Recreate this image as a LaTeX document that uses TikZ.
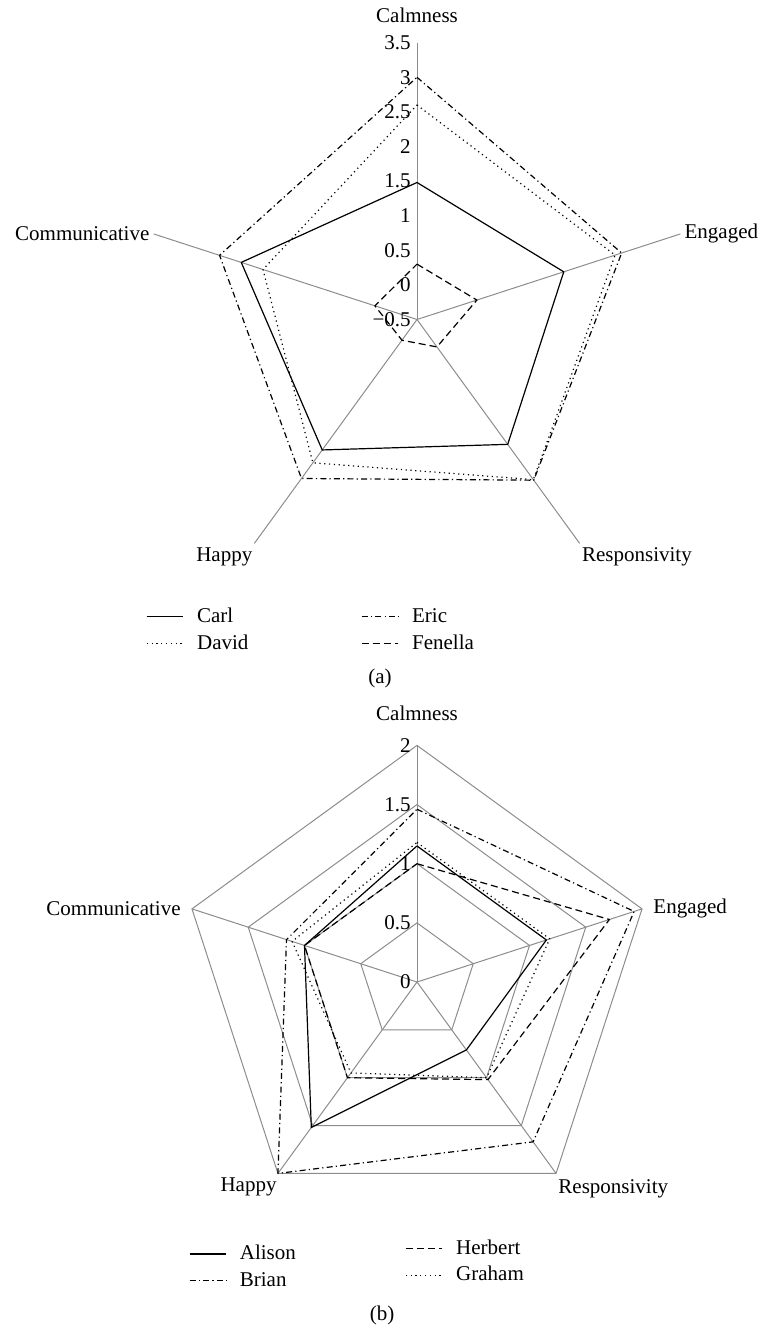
\documentclass[tikz,border=0pt]{standalone}
\usepackage{fontspec}
\setmainfont{Liberation Serif}
\usepackage{tikz}
\usetikzlibrary{positioning}

\begin{document}
\begin{tikzpicture}[
    x=0.5pt, y=0.5pt,
    every node/.style={font=\fontsize{10.5}{12.6}\selectfont},
    gridline/.style={draw=black!45, line width=0.5pt},
    lsolid/.style={draw=black, line width=0.6pt, line join=round},
    ldot/.style={lsolid, dash pattern=on 0.6pt off 1.8pt},
    ldashdot/.style={lsolid, dash pattern=on 3pt off 1.6pt on 0.6pt off 1.6pt},
    ldash/.style={lsolid, dash pattern=on 3.5pt off 2pt},
    ticklabel/.style={anchor=east, inner sep=3pt},
    axislabel/.style={inner sep=2pt},
    legendtext/.style={inner sep=0pt, anchor=west, text height=1.5ex, text depth=0.25ex},
    caption/.style={inner sep=0pt}
]
\useasboundingbox (0,0) rectangle (759,-1329);

\coordinate (ca) at (417,-319.5);
\coordinate (cb) at (417,-982);

% (a)
\begin{scope}[shift={(ca)}, x=34.6pt, y=34.6pt]
\foreach \a in {90,18,-54,-126,162}
    \draw[gridline] (0,0) -- (\a:4);
\foreach \t [count=\i from 0] in {−0.5,0,0.5,1,1.5,2,2.5,3,3.5}
    \node[ticklabel] (ta\i) at (0,{\i/2}) {\t};

\draw[lsolid] (90:1.98) -- (18:2.23) -- (-54:2.23) -- (-126:2.33) -- (162:2.67) -- cycle;
\draw[ldot] (90:3.1) -- (18:3.01) -- (-54:2.86) -- (-126:2.56) -- (162:2.34) -- cycle;
\draw[ldashdot] (90:3.5) -- (18:3.11) -- (-54:2.87) -- (-126:2.84) -- (162:3.0) -- cycle;
\draw[ldash] (90:0.8) -- (18:0.91) -- (-54:0.49) -- (-126:0.37) -- (162:0.64) -- cycle;

\node[axislabel, anchor=south, yshift=8pt] (calma) at (90:4) {Calmness};
\node[axislabel, anchor=west] (enga) at (18:4) {Engaged};
\node[axislabel, anchor=north west, xshift=-1pt] (respa) at (-54:4) {Responsivity};
\node[axislabel, anchor=north east, xshift=1.2pt] (happa) at (-126:4) {Happy};
\node[axislabel, anchor=east] (comma) at (162:4) {Communicative};
\end{scope}

\node[legendtext] (lcarl) at (196.7,-616.7) {Carl};
\node[legendtext, below=5pt of lcarl.south west, anchor=north west] (ldavid) {David};
\node[legendtext] (leric) at (411.7,-616.7) {Eric};
\node[legendtext, below=5pt of leric.south west, anchor=north west] (lfenella) {Fenella};
\draw[lsolid] ([xshift=-25pt]lcarl.west) -- ([xshift=-6.7pt]lcarl.west);
\draw[ldot] ([xshift=-25pt]ldavid.west) -- ([xshift=-6.7pt]ldavid.west);
\draw[ldashdot] ([xshift=-25pt]leric.west) -- ([xshift=-6.7pt]leric.west);
\draw[ldash] ([xshift=-25pt]lfenella.west) -- ([xshift=-6.7pt]lfenella.west);

\node[caption] (capa) at (380,-678) {(a)};

% (b)
\begin{scope}[shift={(cb)}, x=59.15pt, y=59.15pt]
\foreach \r in {0.5,1,1.5,2}
    \draw[gridline] (90:\r) -- (18:\r) -- (-54:\r) -- (-126:\r) -- (162:\r) -- cycle;
\foreach \a in {90,18,-54,-126,162}
    \draw[gridline] (0,0) -- (\a:2);
\foreach \t [count=\i] in {0,0.5,1,1.5,2}
    \node[ticklabel] (tb\i) at (0,\t) {\t};

\draw[lsolid] (90:1.15) -- (18:1.15) -- (-54:0.71) -- (-126:1.52) -- (162:1.0) -- cycle;
\draw[ldashdot] (90:1.46) -- (18:1.93) -- (-54:1.67) -- (-126:2.0) -- (162:1.16) -- cycle;
\draw[ldash] (90:1.0) -- (18:1.71) -- (-54:1.02) -- (-126:1.0) -- (162:1.0) -- cycle;
\draw[ldot] (90:1.18) -- (18:1.18) -- (-54:1.0) -- (-126:0.95) -- (162:1.11) -- cycle;

\node[axislabel, anchor=south, yshift=10pt] (calmb) at (90:2) {Calmness};
\node[axislabel, anchor=west, xshift=3.5pt] (engb) at (18:2) {Engaged};
\node[axislabel, anchor=north west, xshift=-1pt, yshift=-1pt] (respb) at (-54:2) {Responsivity};
\node[axislabel, anchor=north east, xshift=1.5pt] (happb) at (-126:2) {Happy};
\node[axislabel, anchor=east, xshift=-3.5pt] (commb) at (162:2) {Communicative};
\end{scope}

\node[legendtext] (lalison) at (239.5,-1254) {Alison};
\node[legendtext, below=5pt of lalison.south west, anchor=north west] (lbrian) {Brian};
\node[legendtext] (lherbert) at (455.8,-1248.3) {Herbert};
\node[legendtext, below=5pt of lherbert.south west, anchor=north west] (lgraham) {Graham};
\draw[lsolid] ([xshift=-25pt]lalison.west) -- ([xshift=-6.7pt]lalison.west);
\draw[ldashdot] ([xshift=-25pt]lbrian.west) -- ([xshift=-6.7pt]lbrian.west);
\draw[ldash] ([xshift=-25pt]lherbert.west) -- ([xshift=-6.7pt]lherbert.west);
\draw[ldot] ([xshift=-25pt]lgraham.west) -- ([xshift=-6.7pt]lgraham.west);

\node[caption] (capb) at (382,-1315) {(b)};

\end{tikzpicture}
\end{document}
